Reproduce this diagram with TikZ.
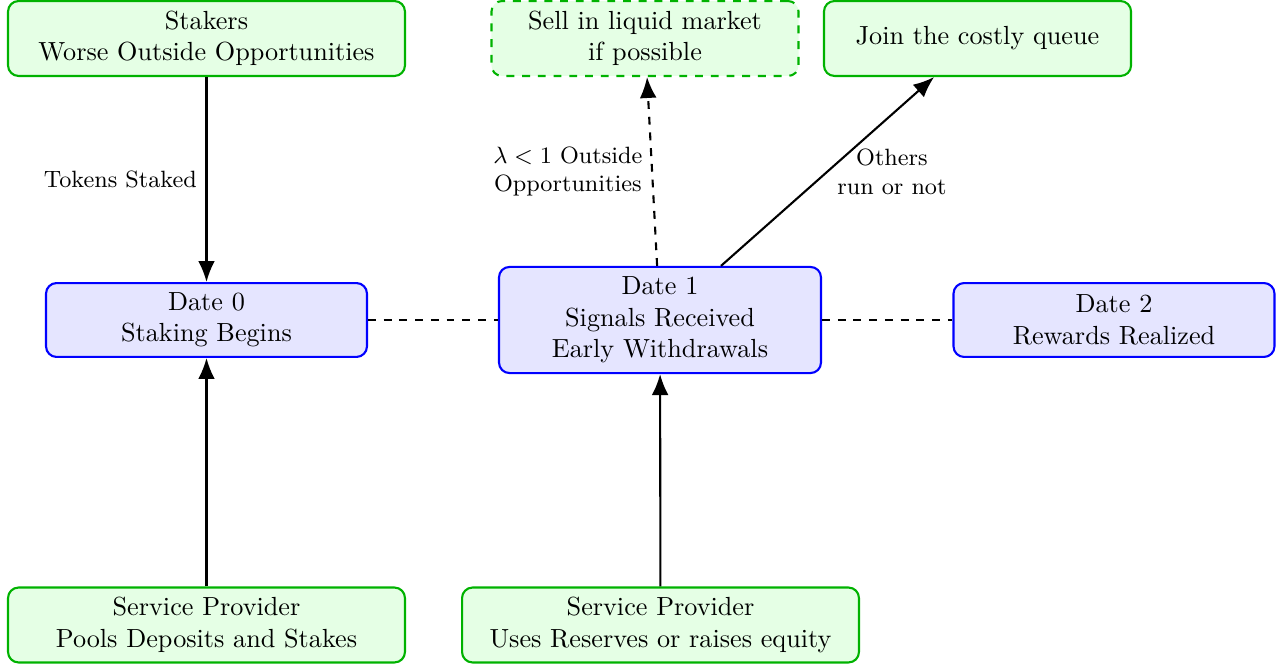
\documentclass[tikz,border=0pt]{standalone}
\usetikzlibrary{arrows.meta}
\begin{document}
\begin{tikzpicture}[x=0.3817pt,y=-0.3817pt,
  actor/.style={draw=green!70!black, fill=green!10, thick, rounded corners=4pt,
    align=center, inner sep=0pt, minimum height=28.6pt},
  datebox/.style={draw=blue, fill=blue!10, thick, rounded corners=4pt,
    align=center, inner sep=0pt, minimum width=122.5pt, minimum height=28.2pt},
  flow/.style={thick, -{Latex[length=8pt, width=6.4pt]}},
  timeline/.style={thin, dashed},
  lbl/.style={font=\small, align=center}]
\useasboundingbox (0,0) rectangle (1284,666);

% top row: stakers and their choices
\node[actor, minimum width=151.5pt] (stakers) at (206.5,38.5) {Stakers\\Worse Outside Opportunities};
\node[actor, dashed, minimum width=117.2pt] (sell) at (645,38.5) {Sell in liquid market\\if possible};
\node[actor, minimum width=117.2pt] (queue) at (977.5,38.5) {Join the costly queue};

% timeline
\node[datebox] (d0) at (206.5,320) {Date 0\\Staking Begins};
\node[datebox, minimum width=122.9pt, minimum height=40.5pt] (d1) at (660,320) {Date 1\\Signals Received\\Early Withdrawals};
\node[datebox] (d2) at (1114,320) {Date 2\\Rewards Realized};

% bottom row: service providers
\node[actor, minimum width=151.5pt] (sp0) at (206.5,625) {Service Provider\\Pools Deposits and Stakes};
\node[actor, minimum width=151.5pt] (sp1) at (660.5,625) {Service Provider\\Uses Reserves or raises equity};

% connectors
\draw[timeline] (d0) -- (d1);
\draw[timeline] (d1) -- (d2);
\draw[flow] (stakers) -- node[lbl, left] {Tokens Staked} (d0);
\draw[flow, dashed] (d1) -- node[lbl, left] {$\lambda<1$ Outside\\Opportunities} (sell);
\draw[flow] (d1) -- node[lbl, right] {Others\\run or not} (queue);
\draw[flow] (sp0) -- (d0);
\draw[flow] (sp1) -- (d1);
\end{tikzpicture}
\end{document}
